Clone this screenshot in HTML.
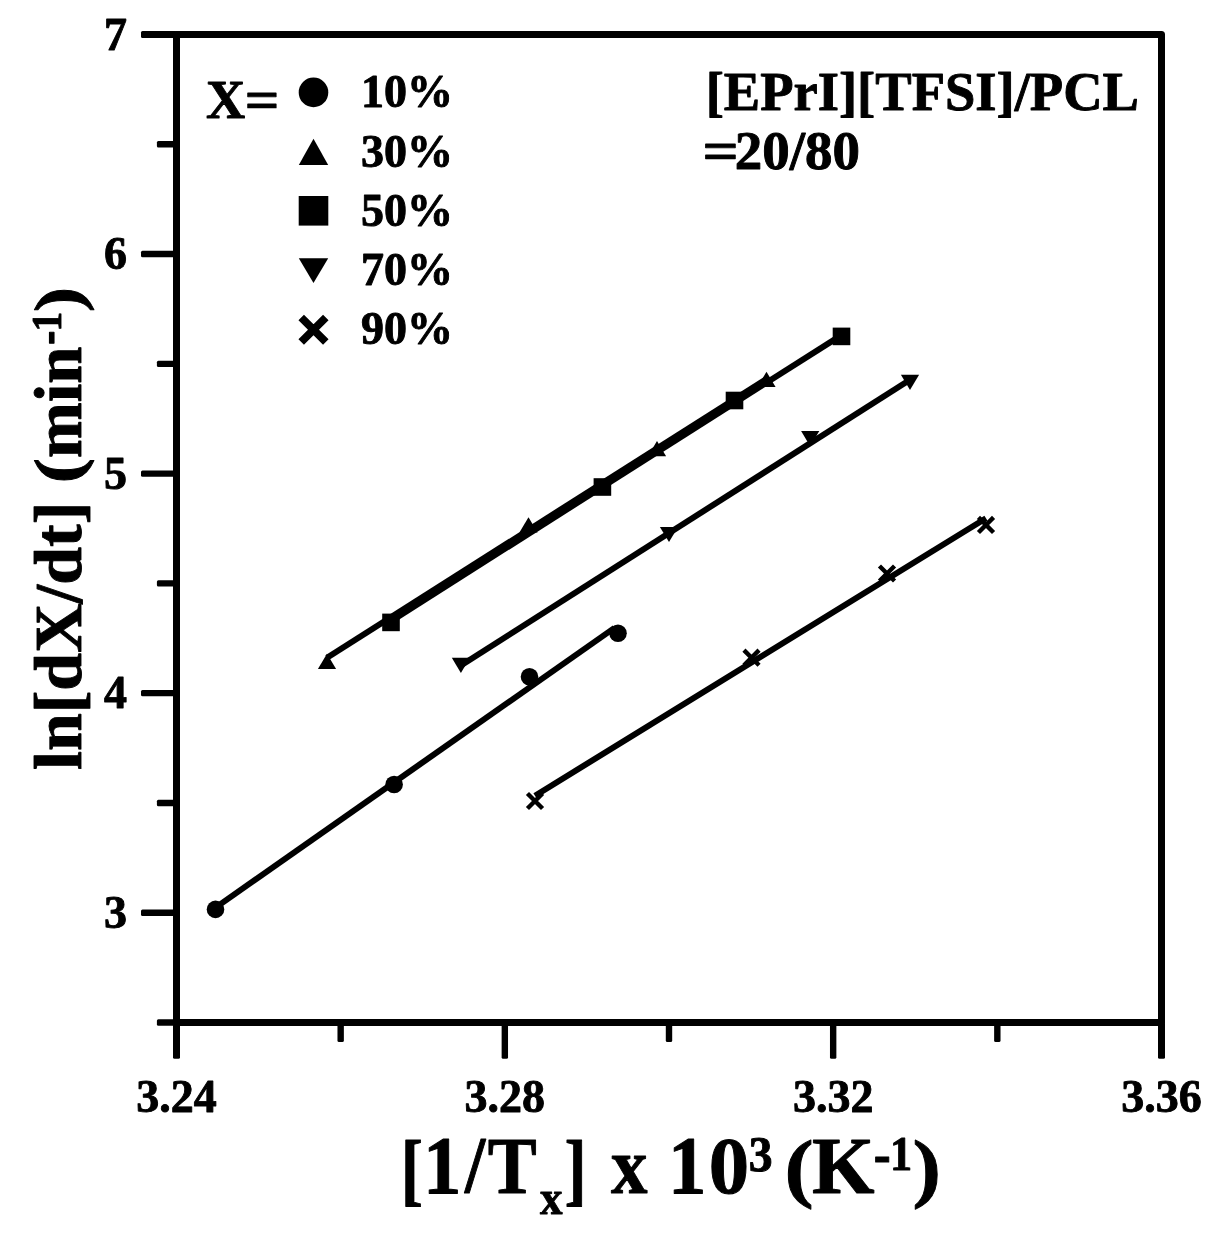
<!DOCTYPE html>
<html><head><meta charset="utf-8"><title>ln[dX/dt] vs 1/Tx</title>
<style>html,body{margin:0;padding:0;background:#fff;}svg{display:block;}text{font-family:"Liberation Serif",serif;font-weight:bold;fill:#000;stroke:#000;stroke-width:0.9px;stroke-linejoin:round;}</style>
</head><body>
<svg width="1217" height="1237" viewBox="0 0 1217 1237">
<rect x="0" y="0" width="1217" height="1237" fill="#fff"/>
<g fill="none" stroke="#000" stroke-width="7" stroke-linecap="round">
<path d="M176.5 34.5H1161.5V1022.5H176.5Z" stroke-linejoin="round"/>
</g>
<g fill="#000">
<rect x="141" y="31.00" width="36" height="7" rx="1.5"/>
<rect x="141" y="250.86" width="36" height="6.4" rx="1.5"/>
<rect x="141" y="470.41" width="36" height="6.4" rx="1.5"/>
<rect x="141" y="689.97" width="36" height="6.4" rx="1.5"/>
<rect x="141" y="909.52" width="36" height="6.4" rx="1.5"/>
<rect x="156.9" y="141.08" width="20" height="6.4" rx="1.5"/>
<rect x="156.9" y="360.63" width="20" height="6.4" rx="1.5"/>
<rect x="156.9" y="580.19" width="20" height="6.4" rx="1.5"/>
<rect x="156.9" y="799.74" width="20" height="6.4" rx="1.5"/>
<rect x="156.9" y="1019.30" width="20" height="6.4" rx="1.5"/>
<rect x="173.00" y="1022" width="7" height="36.8" rx="1.5"/>
<rect x="501.63" y="1022" width="6.4" height="36.8" rx="1.5"/>
<rect x="829.97" y="1022" width="6.4" height="36.8" rx="1.5"/>
<rect x="1158.00" y="1022" width="7" height="36.8" rx="1.5"/>
<rect x="337.47" y="1022" width="6.4" height="20" rx="1.5"/>
<rect x="665.80" y="1022" width="6.4" height="20" rx="1.5"/>
<rect x="994.13" y="1022" width="6.4" height="20" rx="1.5"/>
</g>
<g font-size="46px">
<text x="127" y="49.5" text-anchor="end">7</text>
<text x="127" y="269.1" text-anchor="end">6</text>
<text x="127" y="488.6" text-anchor="end">5</text>
<text x="127" y="708.2" text-anchor="end">4</text>
<text x="127" y="927.7" text-anchor="end">3</text>
<text x="176.5" y="1112" text-anchor="middle">3.24</text>
<text x="504.8" y="1112" text-anchor="middle">3.28</text>
<text x="833.2" y="1112" text-anchor="middle">3.32</text>
<text x="1161.5" y="1112" text-anchor="middle">3.36</text>
</g>
<g fill="none" stroke="#000" stroke-width="6" stroke-linecap="butt">
<line x1="215.5" y1="907.6" x2="614.5" y2="627.9"/>
<line x1="327.0" y1="657.8" x2="766.5" y2="378.9"/>
<line x1="391.0" y1="621.1" x2="841.5" y2="335.1"/>
<line x1="460.9" y1="665.5" x2="910.0" y2="379.7"/>
<line x1="535.0" y1="795.7" x2="986.0" y2="518.3"/>
</g>
<g fill="#000">
<circle cx="215.5" cy="909.4" r="8.8"/>
<circle cx="394.1" cy="784.5" r="8.8"/>
<circle cx="529.5" cy="676.7" r="8.8"/>
<circle cx="618" cy="633.3" r="8.8"/>
<path d="M317.9 668.9L327.0 653.7L336.1 668.9Z"/>
<path d="M519.4 532.4L528.5 517.2L537.6 532.4Z"/>
<path d="M647.9 456.3L657.0 441.1L666.1 456.3Z"/>
<path d="M757.4 386.9L766.5 371.7L775.6 386.9Z"/>
<rect x="382.2" y="613.6" width="17.6" height="17.6"/>
<rect x="593.6" y="478.2" width="17.6" height="17.6"/>
<rect x="725.7" y="391.7" width="17.6" height="17.6"/>
<rect x="832.7" y="327.6" width="17.6" height="17.6"/>
<path d="M451.8 657.8L460.9 673.0L470.0 657.8Z"/>
<path d="M659.9 526.9L669.0 542.1L678.1 526.9Z"/>
<path d="M801.1 431.0L810.2 446.2L819.3 431.0Z"/>
<path d="M900.9 374.8L910.0 390.0L919.1 374.8Z"/>
<path d="M527.45 793.45L542.55 808.55M527.45 808.55L542.55 793.45" fill="none" stroke="#000" stroke-width="4.4"/>
<path d="M743.95 650.15L759.05 665.25M743.95 665.25L759.05 650.15" fill="none" stroke="#000" stroke-width="4.4"/>
<path d="M879.45 565.95L894.55 581.05M879.45 581.05L894.55 565.95" fill="none" stroke="#000" stroke-width="4.4"/>
<path d="M978.45 517.35L993.55 532.45M978.45 532.45L993.55 517.35" fill="none" stroke="#000" stroke-width="4.4"/>
<circle cx="313.5" cy="92.4" r="14.8"/>
<path d="M298.8 165.1L313.5 138.7L328.2 165.1Z"/>
<rect x="298.7" y="196.0" width="29.6" height="29.6"/>
<path d="M298.8 258.2L313.5 283.0L328.2 258.2Z"/>
<path d="M301.20 317.50L325.80 342.10M301.20 342.10L325.80 317.50" fill="none" stroke="#000" stroke-width="7.8"/>
</g>
<g font-size="46px">
<text x="361" y="107.2">10%</text>
<text x="361" y="166.5">30%</text>
<text x="361" y="225.8">50%</text>
<text x="361" y="285.1">70%</text>
<text x="361" y="344.4">90%</text>
</g>
<text transform="translate(205.89,117.80) scale(1.0053,1.0000)" font-size="54px">X</text>
<text transform="translate(244.65,117.80) scale(1.1269,1.0000)" font-size="54px">=</text>
<text transform="translate(705.66,109.60) scale(1.0102,1.0000)" font-size="54px">[EPrI][TFSI]/PCL</text>
<text transform="translate(702.45,169.40) scale(1.1769,1.0000)" font-size="54px">=</text>
<text transform="translate(734.86,169.40) scale(1.0176,1.0000)" font-size="54px">20/80</text>
<text transform="translate(400.66,1195.96) scale(0.8474,1.0215)" font-size="79px">[</text>
<text transform="translate(423.06,1193.10) scale(0.9733,1.0471)" font-size="79px">1</text>
<text transform="translate(464.92,1191.95) scale(0.9208,1.0245)" font-size="79px">/</text>
<text transform="translate(487.77,1193.10) scale(0.9294,1.0216)" font-size="79px">T</text>
<text transform="translate(539.90,1214.10) scale(0.9200,1.0000)" font-size="49px">x</text>
<text transform="translate(564.52,1196.00) scale(0.8421,1.0185)" font-size="79px">]</text>
<text transform="translate(610.90,1193.10) scale(0.9250,1.0056)" font-size="79px">x</text>
<text transform="translate(668.06,1193.10) scale(0.9733,1.0431)" font-size="79px">1</text>
<text transform="translate(708.63,1192.98) scale(1.0235,1.0245)" font-size="79px">0</text>
<text transform="translate(748.83,1171.00) scale(0.9727,1.0469)" font-size="49px">3</text>
<text transform="translate(784.57,1192.61) scale(1.1095,0.9583)" font-size="79px">(</text>
<text transform="translate(811.98,1193.10) scale(1.0183,1.0216)" font-size="79px">K</text>
<text transform="translate(873.76,1173.00) scale(1.0357,1.2000)" font-size="49px">-</text>
<text transform="translate(890.08,1170.10) scale(0.9053,1.0062)" font-size="49px">1</text>
<text transform="translate(912.44,1192.61) scale(1.0810,0.9583)" font-size="79px">)</text>
<text transform="rotate(-90) translate(-770.00,80.90) scale(1.0000,1.0000)" font-size="68px">ln[dX/dt]</text>
<text transform="rotate(-90) translate(-483.25,79.73) scale(1.1167,0.9581)" font-size="68px">(</text>
<text transform="rotate(-90) translate(-457.98,80.90) scale(0.9830,1.0000)" font-size="68px">min</text>
<text transform="rotate(-90) translate(-344.80,63.90) scale(1.0000,1.2500)" font-size="42px">-</text>
<text transform="rotate(-90) translate(-331.61,61.00) scale(0.9375,1.0071)" font-size="42px">1</text>
<text transform="rotate(-90) translate(-312.33,79.73) scale(1.1167,0.9581)" font-size="68px">)</text>
</svg>
</body></html>
